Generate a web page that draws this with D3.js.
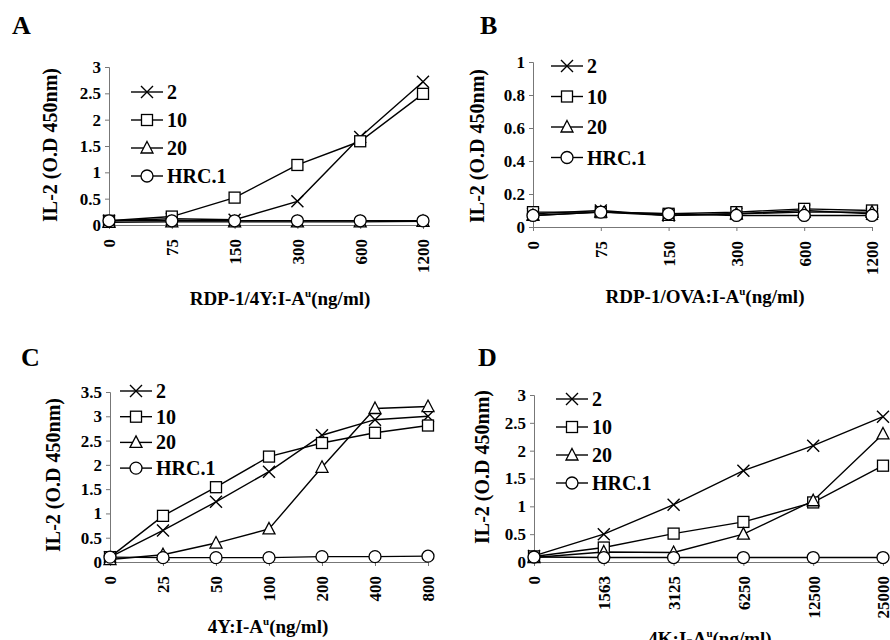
<!DOCTYPE html>
<html>
<head>
<meta charset="utf-8">
<script src="https://cdn.jsdelivr.net/npm/d3@7"></script>
<style>
  body { margin: 0; background: #fff; }
  svg text { font-family: "Liberation Serif", "Times New Roman", serif; font-weight: bold; }
</style>
</head>
<body>
<svg id="chart" width="890" height="640"></svg>
<script>
// series names shared by all four panels
const seriesNames = ["2", "10", "20", "HRC.1"];

// panel A: RDP-1/4Y:I-Au
const catsA = ["0", "75", "150", "300", "600", "1200"];
const a2 = [0.08, 0.12, 0.1, 0.45, 1.67, 2.72];
const a10 = [0.08, 0.16, 0.52, 1.14, 1.59, 2.49];
const a20 = [0.05, 0.06, 0.06, 0.06, 0.06, 0.07];
const aHRC = [0.08, 0.08, 0.08, 0.08, 0.08, 0.08];
const ticksA = [0, 0.5, 1, 1.5, 2, 2.5, 3];

// panel B: RDP-1/OVA:I-Au
const catsB = ["0", "75", "150", "300", "600", "1200"];
const b2 = [0.08, 0.1, 0.07, 0.08, 0.1, 0.08];
const b10 = [0.09, 0.09, 0.08, 0.09, 0.11, 0.1];
const b20 = [0.07, 0.09, 0.07, 0.08, 0.09, 0.09];
const bHRC = [0.07, 0.09, 0.08, 0.07, 0.07, 0.07];
const ticksB = [0, 0.2, 0.4, 0.6, 0.8, 1];

// panel C: 4Y:I-Au
const catsC = ["0", "25", "50", "100", "200", "400", "800"];
const c2 = [0.1, 0.65, 1.24, 1.86, 2.61, 2.93, 3.0];
const c10 = [0.1, 0.95, 1.54, 2.17, 2.45, 2.66, 2.81];
const c20 = [0.05, 0.15, 0.39, 0.68, 1.95, 3.16, 3.2];
const cHRC = [0.1, 0.09, 0.09, 0.09, 0.11, 0.11, 0.12];
const ticksC = [0, 0.5, 1, 1.5, 2, 2.5, 3, 3.5];

// panel D: 4K:I-Au
const catsD = ["0", "1563", "3125", "6250", "12500", "25000"];
const d2 = [0.11, 0.5, 1.03, 1.64, 2.09, 2.61];
const d10 = [0.1, 0.26, 0.51, 0.72, 1.07, 1.73];
const d20 = [0.08, 0.18, 0.17, 0.5, 1.1, 2.3];
const dHRC = [0.09, 0.08, 0.08, 0.08, 0.08, 0.08];
const ticksD = [0, 0.5, 1, 1.5, 2, 2.5, 3];

const svg = d3.select("#chart");
const serif = "Liberation Serif, Times New Roman, serif";

//draw one marker shape centred at 0,0
const drawMarker = (g, type) => {
  if (type === 0) {
    g.append("path").attr("d", "M-6,-6L6,6M-6,6L6,-6")
      .attr("stroke", "#000").attr("stroke-width", 1.4).attr("fill", "none");
  } else if (type === 1) {
    g.append("rect").attr("x", -5.5).attr("y", -5.5).attr("width", 11).attr("height", 11)
      .attr("fill", "#fff").attr("stroke", "#000").attr("stroke-width", 1.3);
  } else if (type === 2) {
    g.append("path").attr("d", "M0,-6.5L6,5L-6,5Z")
      .attr("fill", "#fff").attr("stroke", "#000").attr("stroke-width", 1.3);
  } else {
    g.append("circle").attr("r", 6)
      .attr("fill", "#fff").attr("stroke", "#000").attr("stroke-width", 1.3);
  }
};

const drawPanel = (p) => {
  const g = svg.append("g").attr("font-family", serif).attr("font-weight", "bold");

  const xScale = d3.scalePoint().domain(p.cats).range([p.x0, p.x1]);
  const yScale = d3.scaleLinear().domain([0, p.yMax]).range([p.yBottom, p.yTop]);

  //panel letter
  g.append("text").attr("x", p.letterX).attr("y", p.letterY)
    .attr("font-size", 26).text(p.letter);

  //Axes
  const yAxis = d3.axisLeft(yScale).tickValues(p.ticks).tickSize(4).tickPadding(4)
    .tickFormat(d3.format("~g"));
  const ya = g.append("g").attr("transform", `translate(${p.x0}, 0)`).call(yAxis)
    .attr("font-family", serif).attr("font-size", 17);
  ya.select(".domain").attr("stroke", "#777");
  ya.selectAll(".tick line").attr("stroke", "#777");
  ya.selectAll("text").attr("fill", "#000");

  const xAxis = d3.axisBottom(xScale).tickSize(4).tickSizeOuter(0);
  const xa = g.append("g").attr("transform", `translate(0, ${p.yBottom})`).call(xAxis)
    .attr("font-family", serif).attr("font-size", 17);
  xa.select(".domain").attr("stroke", "#777");
  xa.selectAll(".tick line").attr("stroke", "#777");
  xa.selectAll("text")
    .attr("fill", "#000")
    .attr("text-anchor", "end")
    .attr("transform", "rotate(-90)")
    .attr("x", -14).attr("y", 0).attr("dy", "0.35em");

  //axis titles
  g.append("text")
    .attr("transform", `translate(${p.yTitleX}, ${p.yTitleY}) rotate(-90)`)
    .attr("text-anchor", "middle").attr("dy", "0.35em")
    .attr("font-size", 20).text("IL-2 (O.D 450nm)");

  const xt = g.append("text").attr("x", p.xTitleX).attr("y", p.xTitleY)
    .attr("text-anchor", "middle").attr("font-size", 19);
  xt.append("tspan").text(p.xTitle);
  xt.append("tspan").attr("font-size", 11).attr("dy", -8).text("u");
  xt.append("tspan").attr("dy", 8).text("(ng/ml)");

  //lines and markers
  const line = d3.line().x((d, i) => xScale(p.cats[i])).y((d) => yScale(d));
  p.series.forEach((vals, s) => {
    g.append("path").datum(vals).attr("d", line)
      .attr("fill", "none").attr("stroke", "#000").attr("stroke-width", 1.4);
  });
  p.series.forEach((vals, s) => {
    vals.forEach((v, i) => {
      const m = g.append("g").attr("transform", `translate(${xScale(p.cats[i])}, ${yScale(v)})`);
      drawMarker(m, s);
    });
  });

  //legend
  seriesNames.forEach((name, s) => {
    const y = p.legY + s * p.legStep;
    g.append("line").attr("x1", p.legX).attr("x2", p.legX + 32)
      .attr("y1", y).attr("y2", y).attr("stroke", "#000").attr("stroke-width", 1.4);
    drawMarker(g.append("g").attr("transform", `translate(${p.legX + 16}, ${y})`), s);
    g.append("text").attr("x", p.legX + 36).attr("y", y).attr("dy", "0.35em")
      .attr("font-size", 20).text(name);
  });
};

drawPanel({
  letter: "A", letterX: 12, letterY: 34,
  cats: catsA, series: [a2, a10, a20, aHRC], ticks: ticksA, yMax: 3,
  x0: 109, x1: 423, yBottom: 225, yTop: 67,
  yTitleX: 50, yTitleY: 145,
  xTitle: "RDP-1/4Y:I-A", xTitleX: 280, xTitleY: 305,
  legX: 131, legY: 92, legStep: 28
});

drawPanel({
  letter: "B", letterX: 480, letterY: 34,
  cats: catsB, series: [b2, b10, b20, bHRC], ticks: ticksB, yMax: 1,
  x0: 533, x1: 872, yBottom: 227, yTop: 62,
  yTitleX: 477, yTitleY: 146,
  xTitle: "RDP-1/OVA:I-A", xTitleX: 705, xTitleY: 303,
  legX: 551, legY: 66, legStep: 30.5
});

drawPanel({
  letter: "C", letterX: 21, letterY: 366,
  cats: catsC, series: [c2, c10, c20, cHRC], ticks: ticksC, yMax: 3.5,
  x0: 110, x1: 428, yBottom: 562, yTop: 392,
  yTitleX: 53, yTitleY: 475,
  xTitle: "4Y:I-A", xTitleX: 268, xTitleY: 633,
  legX: 120, legY: 391, legStep: 25.7
});

drawPanel({
  letter: "D", letterX: 478, letterY: 366,
  cats: catsD, series: [d2, d10, d20, dHRC], ticks: ticksD, yMax: 3,
  x0: 534, x1: 883, yBottom: 562, yTop: 395,
  yTitleX: 482, yTitleY: 467,
  xTitle: "4K:I-A", xTitleX: 710, xTitleY: 645,
  legX: 556, legY: 399, legStep: 28
});
</script>
</body>
</html>
